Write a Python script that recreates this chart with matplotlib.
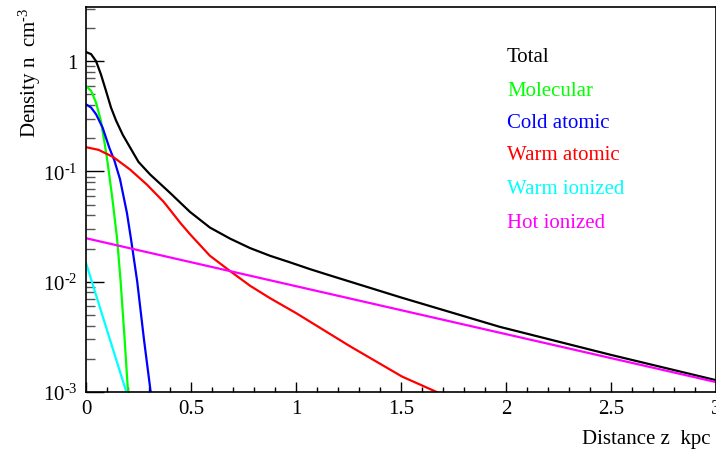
import math
import matplotlib
matplotlib.use("Agg")
import matplotlib.pyplot as plt
from matplotlib.ticker import LogLocator, MultipleLocator, FuncFormatter, NullFormatter

plt.rcParams['font.family'] = ['Liberation Serif', 'DejaVu Serif']
plt.rcParams['mathtext.fontset'] = 'custom'
plt.rcParams['mathtext.rm'] = 'Liberation Serif'
plt.rcParams['mathtext.it'] = 'Liberation Serif:italic'

# density profiles vs height above the plane (kpc, cm^-3)
z_total = [0, 0.024, 0.048, 0.071, 0.095, 0.119, 0.143, 0.175, 0.206, 0.25,
           0.305, 0.4, 0.495, 0.59, 0.686, 0.781, 0.876, 0.971, 1.067, 1.162,
           1.5, 1.97, 2.5, 3.0]
n_total = [1.21, 1.16, 1.0, 0.76, 0.54, 0.38, 0.29, 0.215, 0.17, 0.122,
           0.094, 0.064, 0.043, 0.031, 0.0246, 0.0202, 0.0172, 0.015, 0.013, 0.0114,
           0.0072, 0.0039, 0.00217, 0.00128]

z_mol = [0, 0.024, 0.048, 0.071, 0.087, 0.103, 0.125, 0.148, 0.165, 0.184, 0.2]
n_mol = [0.595, 0.54, 0.42, 0.287, 0.189, 0.12, 0.058, 0.0246, 0.01, 0.003, 0.001]

z_cold = [0, 0.024, 0.048, 0.079, 0.111, 0.135, 0.162, 0.195, 0.214, 0.244, 0.276, 0.308]
n_cold = [0.406, 0.38, 0.33, 0.25, 0.164, 0.126, 0.085, 0.042, 0.0246, 0.01, 0.003, 0.001]

z_warm = [0, 0.06, 0.13, 0.21, 0.29, 0.37, 0.45, 0.495, 0.59, 0.686, 0.781, 0.876,
          1.0, 1.257, 1.505, 1.67]
n_warm = [0.166, 0.157, 0.135, 0.104, 0.076, 0.053, 0.034, 0.027, 0.0172, 0.0125, 0.0092,
          0.0071, 0.0052, 0.0026, 0.00138, 0.001]

z_wion = [0, 0.192]
n_wion = [0.0148, 0.001]

z_hot = [0, 3.0]
n_hot = [0.0248, 0.00123]

labels = ['Total', 'Molecular', 'Cold atomic', 'Warm atomic', 'Warm ionized', 'Hot ionized']
colors = ['#000000', '#00ff00', '#0000ff', '#ff0000', '#00ffff', '#ff00ff']


def fmt_y(v, pos):
    if abs(v - 1) < 1e-9:
        return '1'
    exp = int(round(math.log10(v)))
    return r'10$^{\text{%d}}$' % exp


fig = plt.figure(figsize=(7.16, 4.52), dpi=100)
ax = fig.add_axes([86 / 716, 1 - 393 / 452, 630 / 716, 385 / 452])

series = [(z_total, n_total), (z_mol, n_mol), (z_cold, n_cold),
          (z_warm, n_warm), (z_wion, n_wion), (z_hot, n_hot)]
for (zz, nn), c in zip(series, colors):
    ax.plot(zz, nn, color=c, linewidth=1.6, solid_joinstyle='round')

ax.set_yscale('log')
ax.set_xlim(0, 3)
ax.set_ylim(1e-3, 3.1)

ax.xaxis.set_major_locator(MultipleLocator(0.5))
ax.xaxis.set_minor_locator(MultipleLocator(0.1))
ax.xaxis.set_major_formatter(FuncFormatter(lambda v, p: '%g' % v))
ax.yaxis.set_major_locator(LogLocator(base=10, numticks=10))
ax.yaxis.set_minor_locator(LogLocator(base=10, subs=range(2, 10), numticks=20))
ax.yaxis.set_major_formatter(FuncFormatter(fmt_y))
ax.yaxis.set_minor_formatter(NullFormatter())

ax.tick_params(axis='x', which='major', direction='in', length=7.5, width=1,
               labelsize=15, pad=5, top=False)
ax.tick_params(axis='x', which='minor', direction='in', length=3.8, width=1, top=False)
ax.tick_params(axis='y', which='major', direction='in', length=13, width=1,
               labelsize=15, pad=6, right=False)
ax.tick_params(axis='y', which='minor', direction='in', length=6.5, width=1,
               color='#555555', right=False)
for s in ax.spines.values():
    s.set_linewidth(1.2)

# axis titles in the corner positions
fig.text(30 / 716, 1 - 8 / 452, r'Density n  cm$^{\text{-3}}$', rotation=90,
         ha='center', va='top', fontsize=15)
fig.text(711 / 716, 1 - 440 / 452, 'Distance z  kpc', ha='right', va='center',
         fontsize=15)

# coloured text legend
legend_y = [57, 91, 124, 156, 190, 223]
for lab, c, yy in zip(labels, colors, legend_y):
    fig.text(507 / 716, 1 - yy / 452, lab, color=c, ha='left', va='center',
             fontsize=15)

fig.savefig('out.png', dpi=100)
